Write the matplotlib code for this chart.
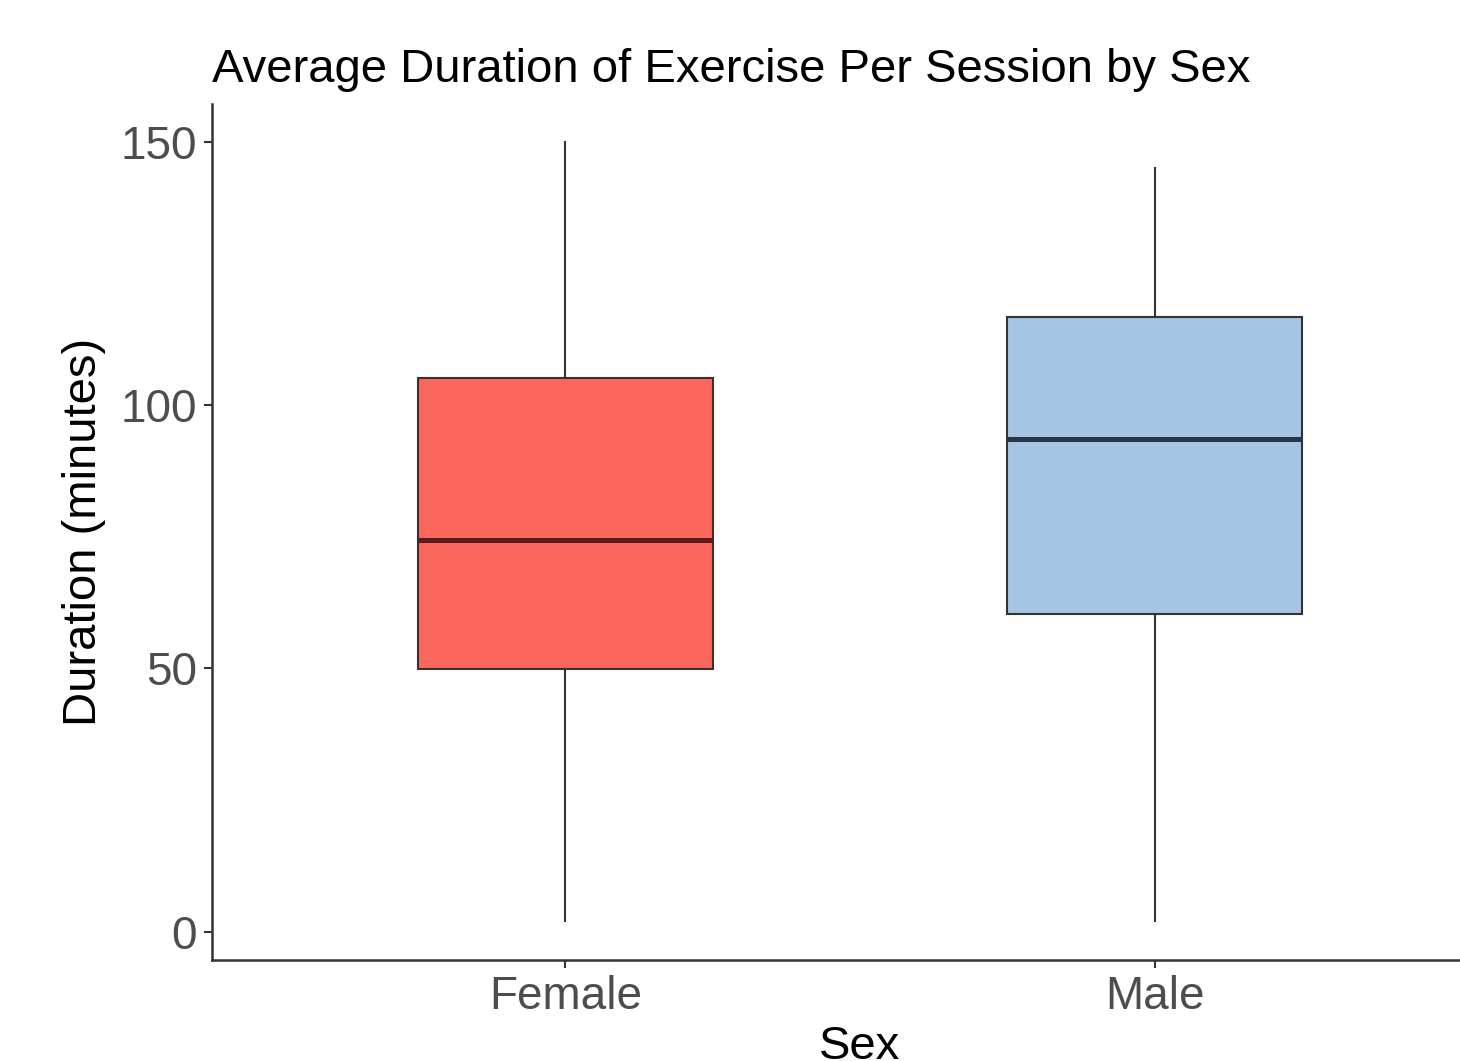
import matplotlib.pyplot as plt

# Data
sexes = ['Female', 'Male']
q1 = [49.8, 60.3]
median = [74.3, 93.5]
q3 = [105.1, 116.7]
whisker_low = [2.1, 2.1]
whisker_high = [150.0, 145.0]
fill_colors = ['#fb675c', '#a6c5e3']
median_colors = ['#5a1c1c', '#263648']

plt.rcParams['font.family'] = ['Liberation Sans', 'DejaVu Sans']

fig = plt.figure(figsize=(14.6, 10.61), dpi=100)
W, H = 1460, 1061
ax = fig.add_axes([212 / W, (H - 960) / H, (1508 - 212) / W, (960 - 104) / H])

stats = []
for i, s in enumerate(sexes):
    stats.append({'label': s, 'q1': q1[i], 'med': median[i], 'q3': q3[i],
                  'whislo': whisker_low[i], 'whishi': whisker_high[i], 'fliers': []})

bp = ax.bxp(stats, positions=[1, 2], widths=0.5, patch_artist=True,
            showcaps=False, showfliers=False,
            boxprops=dict(edgecolor='#333333', linewidth=1.5),
            whiskerprops=dict(color='#333333', linewidth=1.5),
            medianprops=dict(linewidth=3.6))
for patch, c in zip(bp['boxes'], fill_colors):
    patch.set_facecolor(c)
for line, c in zip(bp['medians'], median_colors):
    line.set_color(c)
    line.set_solid_capstyle('butt')

ax.set_xlim(0.4, 2.6)
ax.set_ylim(-5.4, 157.2)
ax.set_yticks([0, 50, 100, 150])
ax.set_xticks([1, 2])
ax.set_xticklabels(sexes)

for side in ['top', 'right']:
    ax.spines[side].set_visible(False)
for side in ['left', 'bottom']:
    ax.spines[side].set_color('#333333')
    ax.spines[side].set_linewidth(1.8)

ax.tick_params(axis='both', colors='#333333', length=6, width=1.5,
               labelsize=33, labelcolor='#4d4d4d', pad=5)

ax.set_xlabel('Sex', fontsize=34, labelpad=4)
ax.set_ylabel('Duration (minutes)', fontsize=34, labelpad=10)
ax.set_title('Average Duration of Exercise Per Session by Sex', fontsize=34,
             loc='left', pad=16)

fig.savefig('out.png', dpi=100)
